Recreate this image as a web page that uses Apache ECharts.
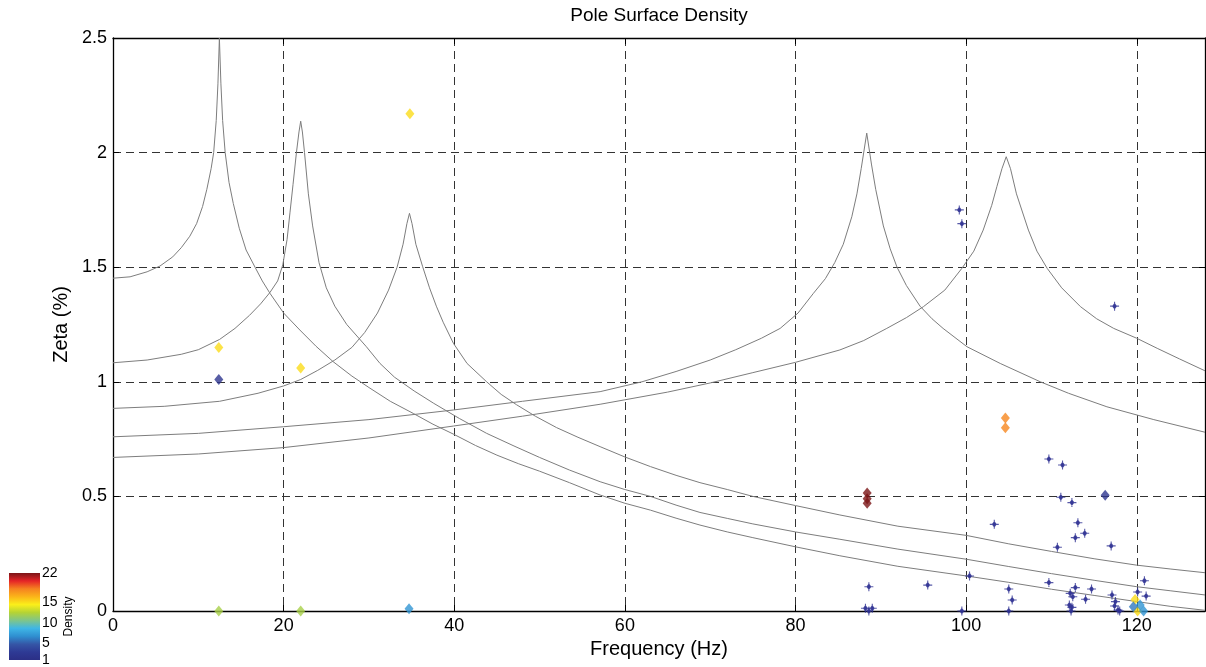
<!DOCTYPE html>
<html>
<head>
<meta charset="utf-8">
<script src="https://cdn.jsdelivr.net/npm/echarts@6/dist/echarts.min.js"></script>
<style>html,body{margin:0;padding:0;background:#fff}#c{width:1206px;height:667px}</style>
</head>
<body>
<div id="c"></div>
<script>
// ---- data ----
var titleText = 'Pole Surface Density';
var xTicks = [0, 20, 40, 60, 80, 100, 120];
var yTicks = [0, 0.5, 1, 1.5, 2, 2.5];
var densityTicks = [1, 5, 10, 15, 22];

var curveA = [[0,1.452],[2,1.458],[4,1.48],[5.5,1.505],[7,1.545],[8,1.585],[9,1.635],[9.8,1.69],[10.5,1.765],[11,1.84],[11.5,1.93],[11.8,2.0],[12.1,2.14],[12.3,2.3],[12.47,2.5],[12.65,2.3],[12.85,2.14],[13.15,2.0],[13.6,1.87],[14.1,1.778],[14.8,1.67],[15.6,1.575],[16.65,1.5],[17.5,1.44],[18.4,1.386],[20,1.3],[21.9,1.226],[23.8,1.155],[25.8,1.088],[28,1.025],[30,0.975],[32.5,0.915],[35.2,0.862],[37.5,0.815],[40,0.77],[42.5,0.722],[45,0.68],[47.5,0.643],[50,0.61],[53.5,0.56],[57.1,0.506],[60,0.47],[63,0.44],[66,0.405],[68.8,0.375],[72,0.345],[75,0.32],[80,0.28],[85.2,0.241],[92,0.195],[100,0.153],[105,0.125],[110,0.095],[115,0.068],[120,0.041],[124,0.02],[128,0.003]];
var curveB = [[0,1.083],[4,1.095],[8,1.12],[10,1.14],[12.5,1.185],[14.3,1.233],[16,1.29],[17.3,1.34],[18.4,1.39],[19.3,1.44],[19.9,1.51],[20.4,1.62],[20.75,1.74],[21.1,1.86],[21.5,2.0],[21.8,2.09],[22.0,2.137],[22.2,2.09],[22.45,2.0],[22.9,1.82],[23.4,1.68],[24.15,1.52],[25,1.41],[26,1.33],[27.4,1.25],[29.7,1.153],[31.3,1.08],[33,1.02],[35.3,0.96],[37.6,0.906],[40.6,0.84],[43.8,0.775],[47,0.72],[50,0.67],[53.5,0.615],[57.1,0.564],[60,0.53],[63,0.5],[66,0.462],[68.8,0.43],[72,0.404],[75,0.38],[80,0.345],[85.2,0.313],[92,0.27],[100,0.226],[105,0.194],[110,0.163],[115,0.134],[120,0.106],[124,0.088],[128,0.07]];
var curveC = [[0,0.884],[6,0.893],[12.5,0.915],[17,0.95],[20,0.982],[22,1.01],[24,1.05],[26,1.095],[28,1.15],[29.5,1.215],[31,1.3],[32.3,1.4],[33.3,1.5],[34,1.6],[34.45,1.69],[34.75,1.735],[35.05,1.69],[35.5,1.6],[36.3,1.502],[37.1,1.41],[37.9,1.33],[38.7,1.26],[39.9,1.168],[41.5,1.08],[43.8,1.0],[45.5,0.945],[47.3,0.9],[49.5,0.85],[52,0.8],[54.5,0.758],[57.1,0.717],[60,0.672],[63,0.63],[66,0.592],[68.8,0.56],[72,0.53],[75,0.5],[80,0.46],[85.2,0.419],[92,0.37],[100,0.33],[105,0.293],[110,0.26],[115,0.228],[120,0.2],[124,0.183],[128,0.167]];
var curveD = [[0,0.76],[10,0.775],[20,0.804],[30,0.835],[39.9,0.877],[48,0.915],[57.1,0.957],[62,1.0],[66,1.045],[70,1.095],[73,1.14],[76,1.19],[78.2,1.233],[80.3,1.3],[82.1,1.386],[83.5,1.45],[84.6,1.52],[85.6,1.6],[86.6,1.72],[87.2,1.82],[87.7,1.93],[88.35,2.085],[88.9,1.95],[89.4,1.84],[90.3,1.68],[91.1,1.58],[91.9,1.5],[93,1.42],[94.6,1.33],[96,1.275],[97.3,1.233],[100.1,1.153],[104,1.08],[108.7,1.0],[112,0.95],[116.5,0.891],[122,0.835],[128,0.78]];
var curveE = [[0,0.67],[10,0.685],[20,0.713],[30,0.755],[39.9,0.807],[48,0.85],[57.1,0.902],[65,0.955],[70,0.995],[75,1.04],[80,1.085],[85.2,1.139],[88,1.18],[90.7,1.233],[93,1.28],[95,1.328],[97.5,1.4],[99.5,1.495],[100.9,1.57],[102,1.662],[103,1.77],[103.6,1.851],[104.2,1.93],[104.7,1.982],[105.2,1.93],[105.9,1.82],[107.3,1.662],[108.3,1.57],[109.5,1.495],[111.2,1.41],[113.4,1.328],[115.3,1.275],[117.3,1.233],[120,1.19],[122.4,1.146],[125,1.1],[128,1.048]];

// single poles (density 1), [freq, zeta]
var singlePoles = [[99.2,1.75],[99.5,1.69],[117.4,1.33],[109.7,0.663],[111.3,0.637],[111.1,0.496],[112.4,0.473],[113.1,0.385],[113.9,0.339],[112.8,0.32],[110.7,0.278],[117.0,0.284],[103.3,0.378],[88.6,0.106],[95.5,0.113],[100.4,0.153],[105.0,0.096],[105.4,0.048],[109.7,0.124],[112.8,0.102],[114.7,0.096],[112.2,0.077],[112.5,0.062],[114.0,0.051],[112.1,0.026],[112.4,0.016],[117.1,0.07],[117.5,0.041],[117.4,0.022],[117.8,0.004],[118.0,0.0],[120.9,0.132],[121.1,0.065],[120.1,0.083],[88.2,0.012],[89.0,0.012],[88.6,0.0],[99.5,0.0],[105.0,0.0],[112.3,0.0]];
// dense poles, [freq, zeta, density]
var densePoles = [[34.8,2.17,15],[12.4,1.15,15],[12.4,1.01,2],[22.0,1.06,15],[12.4,0.0,12],[22.0,0.0,12],[34.7,0.01,7],[88.4,0.515,22],[88.4,0.49,22],[88.4,0.47,22],[104.6,0.842,18],[104.6,0.8,18],[116.3,0.505,2],[119.8,0.05,15],[120.1,0.0,15],[120.4,0.026,7],[119.6,0.019,6],[120.8,0.0,7]];

var densityMin = 1, densityMax = 22;
var jetColors = ['#2b2f86','#2e3a95','#3556a6','#2f8fd0','#3fb6e6','#7fc58a','#b5d334','#fbef1a','#fbb519','#f58220','#e52427','#7a1517'];

// ---- chart ----
var chart = echarts.init(document.getElementById('c'), null, {renderer: 'canvas'});
var font = "'Liberation Sans', Arial, Helvetica, sans-serif";
var gridLine = {show: true, lineStyle: {color: '#333333', width: 1, type: [8, 5]}};
var stops = jetColors.map(function (c, i) { return {offset: 1 - i / (jetColors.length - 1), color: c}; }).reverse();
var crossPath = 'path://M0,-4.5L0,4.5M-4.5,0L4.5,0M0,-2.5L1.9,0L0,2.5L-1.9,0Z';

function lineSeries(d) {
  return {type: 'line', data: d, xAxisIndex: 0, yAxisIndex: 0, showSymbol: false, symbol: 'none', smooth: false,
    lineStyle: {color: '#7d7d7d', width: 1}, z: 2, silent: true};
}

var option = {
  backgroundColor: '#ffffff',
  animation: false,
  graphic: [{type: 'text', x: 659, y: 16, style: {text: titleText, font: '19px ' + font, fill: '#000', textAlign: 'center', textVerticalAlign: 'middle'}}],
  grid: [
    {left: 113, top: 38, right: 1, bottom: 56, show: false},
    {left: 9, top: 573, width: 31, height: 91, show: false}
  ],
  visualMap: [{type: 'continuous', show: false, min: densityMin, max: densityMax, dimension: 2, seriesIndex: 6, inRange: {color: jetColors}}],
  xAxis: [
    {gridIndex: 0, type: 'value', min: 0, max: 128, interval: 20, position: 'bottom',
      axisLine: {show: true, onZero: false, lineStyle: {color: '#000', width: 1.3}},
      axisTick: {show: true, inside: true, length: 6, lineStyle: {color: '#000'}},
      axisLabel: {color: '#000', fontSize: 18, fontFamily: font, margin: 6, showMaxLabel: false},
      splitLine: gridLine,
      name: 'Frequency (Hz)', nameLocation: 'middle', nameGap: 27, nameTextStyle: {color: '#000', fontSize: 20, fontFamily: font}},
    {gridIndex: 0, type: 'value', min: 0, max: 128, interval: 20, position: 'top',
      axisLine: {show: true, onZero: false, lineStyle: {color: '#000', width: 1.3}},
      axisTick: {show: true, inside: true, length: 6, lineStyle: {color: '#000'}},
      axisLabel: {show: false}, splitLine: {show: false}},
    {gridIndex: 1, type: 'category', data: ['density'], show: false}
  ],
  yAxis: [
    {gridIndex: 0, type: 'value', min: 0, max: 2.5, interval: 0.5, position: 'left',
      axisLine: {show: true, onZero: false, lineStyle: {color: '#000', width: 1.3}},
      axisTick: {show: true, inside: true, length: 6, lineStyle: {color: '#000'}},
      axisLabel: {color: '#000', fontSize: 18, fontFamily: font, margin: 6},
      splitLine: gridLine,
      name: 'Zeta (%)', nameLocation: 'middle', nameGap: 41, nameRotate: 90, nameTextStyle: {color: '#000', fontSize: 20, fontFamily: font}},
    {gridIndex: 0, type: 'value', min: 0, max: 2.5, interval: 0.5, position: 'right',
      axisLine: {show: true, onZero: false, lineStyle: {color: '#000', width: 1.3}},
      axisTick: {show: true, inside: true, length: 6, lineStyle: {color: '#000'}},
      axisLabel: {show: false}, splitLine: {show: false}},
    {gridIndex: 1, type: 'value', min: densityMin, max: densityMax, position: 'right',
      axisLine: {show: false}, axisTick: {show: false}, splitLine: {show: false},
      axisLabel: {show: true, customValues: densityTicks, color: '#000', fontSize: 14, fontFamily: font, margin: 2},
      name: 'Density', nameLocation: 'middle', nameGap: 23, nameRotate: 90, nameTextStyle: {color: '#000', fontSize: 12, fontFamily: font}}
  ],
  series: [
    lineSeries(curveA), lineSeries(curveB), lineSeries(curveC), lineSeries(curveD), lineSeries(curveE),
    {type: 'scatter', name: 'poles', data: singlePoles, xAxisIndex: 0, yAxisIndex: 0, symbol: crossPath, symbolSize: 9,
      itemStyle: {color: '#2e3192', borderColor: '#2e3192', borderWidth: 1.1}, z: 3},
    {type: 'scatter', name: 'density', data: densePoles, xAxisIndex: 0, yAxisIndex: 0, symbol: 'diamond', symbolSize: [9, 11], z: 4},
    {type: 'bar', data: [densityMin], xAxisIndex: 2, yAxisIndex: 2, stack: 'cb', barWidth: '100%', itemStyle: {color: 'rgba(0,0,0,0)'}, silent: true},
    {type: 'bar', data: [densityMax - densityMin], xAxisIndex: 2, yAxisIndex: 2, stack: 'cb', barWidth: '100%',
      itemStyle: {color: new echarts.graphic.LinearGradient(0, 0, 0, 1, stops)}, silent: true}
  ]
};
chart.setOption(option);
</script>
</body>
</html>
